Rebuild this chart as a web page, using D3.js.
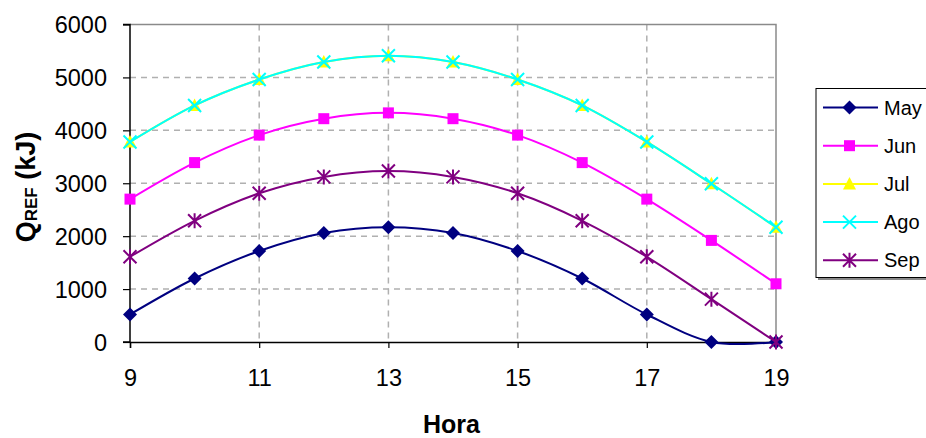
<!DOCTYPE html>
<html><head><meta charset="utf-8">
<script src="https://cdn.jsdelivr.net/npm/d3@7"></script>
<style>body{margin:0;background:#fff;} svg{display:block;font-family:Arial,"Liberation Sans",sans-serif;}</style>
</head><body>
<svg id="c" width="926" height="438"></svg>
<script>
const hours = [9,10,11,12,13,14,15,16,17,18,19];
const xTicks = [9,11,13,15,17,19];
const yTicks = [0,1000,2000,3000,4000,5000,6000];
const seriesNames = ["May","Jun","Jul","Ago","Sep"];
const may = [520,1200,1720,2060,2170,2060,1720,1200,520,0,0];
const jun = [2700,3390,3910,4220,4330,4220,3910,3390,2700,1920,1100];
const jul = [3780,4470,4960,5290,5410,5290,4960,4470,3780,2990,2170];
const ago = [3780,4470,4960,5290,5410,5290,4960,4470,3780,2990,2170];
const sep = [1610,2290,2810,3120,3230,3120,2810,2290,1610,810,0];
const seriesValues = [may, jun, jul, ago, sep];
const colors = ["#000080","#FF00FF","#FFFF00","#00FFFF","#800080"];
const markers = ["diamond","square","triangle","x","star"];

const svg = d3.select("#c");
const L=130,R=776,T=24.5,B=342;
const x = d3.scaleLinear().domain([9,19]).range([L,R]);
const y = d3.scaleLinear().domain([0,6000]).range([B,T]);

// gridlines
const g = svg.append("g");
g.selectAll("line.hg").data(yTicks.filter(d=>d>0&&d<6000)).join("line")
 .attr("x1",L).attr("x2",R).attr("y1",d=>y(d)).attr("y2",d=>y(d))
 .attr("stroke","#b0b0b0").attr("stroke-width",1.5).attr("stroke-dasharray","6,5");
g.selectAll("line.vg").data(xTicks.filter(d=>d>9&&d<19)).join("line")
 .attr("y1",T).attr("y2",B).attr("x1",d=>x(d)).attr("x2",d=>x(d))
 .attr("stroke","#b0b0b0").attr("stroke-width",1.5).attr("stroke-dasharray","6,5");
// plot border top/right
svg.append("path").attr("d",`M${L},${T}H${R}V${B}`).attr("fill","none").attr("stroke","#8a8a8a").attr("stroke-width",1.5);

// axes
const yAxis = d3.axisLeft(y).tickValues(yTicks).tickSize(7).tickPadding(16).tickFormat(d3.format("d"));
const ya = svg.append("g").attr("transform",`translate(${L},0)`).call(yAxis);
const xAxis = d3.axisBottom(x).tickValues(xTicks).tickSize(6).tickPadding(12).tickFormat(d3.format("d"));
const xa = svg.append("g").attr("transform",`translate(0,${B})`).call(xAxis);
[ya,xa].forEach(a=>{
  a.attr("font-family",null).attr("font-size",null);
  a.select(".domain").attr("stroke","#000").attr("stroke-width",1.5);
  a.selectAll(".tick line").attr("stroke","#000").attr("stroke-width",1.2);
  a.selectAll("text").style("font-size","23.5px").attr("fill","#000");
});
ya.selectAll("text").attr("dy","0.36em");
xa.selectAll("text").attr("y",36).attr("dy","0.36em");
ya.select(".domain").attr("d",`M-7,${y(6000)}H0V${y(0)}H-7`);

// titles
svg.append("text").attr("x",451.5).attr("y",433).attr("text-anchor","middle")
 .style("font-size","25px").attr("font-weight","bold").text("Hora");
const yt = svg.append("text").attr("transform","translate(34.5,187) rotate(-90)").attr("text-anchor","middle")
 .style("font-size","27px").attr("font-weight","bold");
yt.append("tspan").text("Q");
yt.append("tspan").style("font-size","17px").attr("dy",2.5).text("REF");
yt.append("tspan").attr("dy",-2.5).text(" (kJ)");

// markers
function drawMarker(sel, type, color, cx, cy){
  const s = 6.5;
  if(type==="diamond"){
    sel.append("path").attr("d",`M${cx},${cy-7}L${cx+7},${cy}L${cx},${cy+7}L${cx-7},${cy}Z`).attr("fill",color);
  } else if(type==="square"){
    sel.append("rect").attr("x",cx-5.5).attr("y",cy-5.5).attr("width",11).attr("height",11).attr("fill",color);
  } else if(type==="triangle"){
    sel.append("path").attr("d",`M${cx},${cy-7}L${cx+6.5},${cy+5.5}L${cx-6.5},${cy+5.5}Z`).attr("fill",color);
  } else if(type==="x"){
    sel.append("path").attr("d",`M${cx-s},${cy-s}L${cx+s},${cy+s}M${cx-s},${cy+s}L${cx+s},${cy-s}`).attr("stroke",color).attr("stroke-width",2);
  } else if(type==="star"){
    sel.append("path").attr("d",`M${cx-s},${cy-s}L${cx+s},${cy+s}M${cx-s},${cy+s}L${cx+s},${cy-s}M${cx},${cy-7.5}L${cx},${cy+7.5}`).attr("stroke",color).attr("stroke-width",2);
  }
}

const line = d3.line().x(d=>x(d[0])).y(d=>y(d[1])).curve(d3.curveCardinal.tension(0));
seriesValues.forEach((vals,i)=>{
  const pts = hours.map((h,j)=>[h,vals[j]]);
  const sg = svg.append("g");
  sg.append("path").attr("d",line(pts)).attr("fill","none").attr("stroke",colors[i]).attr("stroke-width",2);
  pts.forEach(p=>drawMarker(sg, markers[i], colors[i], x(p[0]), y(p[1])));
});

// legend
const lg = svg.append("g");
lg.append("rect").attr("x",818).attr("y",91).attr("width",120).attr("height",189).attr("fill","#888");
lg.append("rect").attr("x",816).attr("y",88.5).attr("width",120).attr("height",189).attr("fill","#fff").attr("stroke","#000").attr("stroke-width",1);
seriesNames.forEach((n,i)=>{
  const yy = 107.5 + i*38.2;
  lg.append("line").attr("x1",823).attr("x2",878).attr("y1",yy).attr("y2",yy).attr("stroke",colors[i]).attr("stroke-width",2);
  drawMarker(lg, markers[i], colors[i], 849.5, yy);
  lg.append("text").attr("x",884).attr("y",yy+7).style("font-size","20px").text(n);
});
</script>
</body></html>
